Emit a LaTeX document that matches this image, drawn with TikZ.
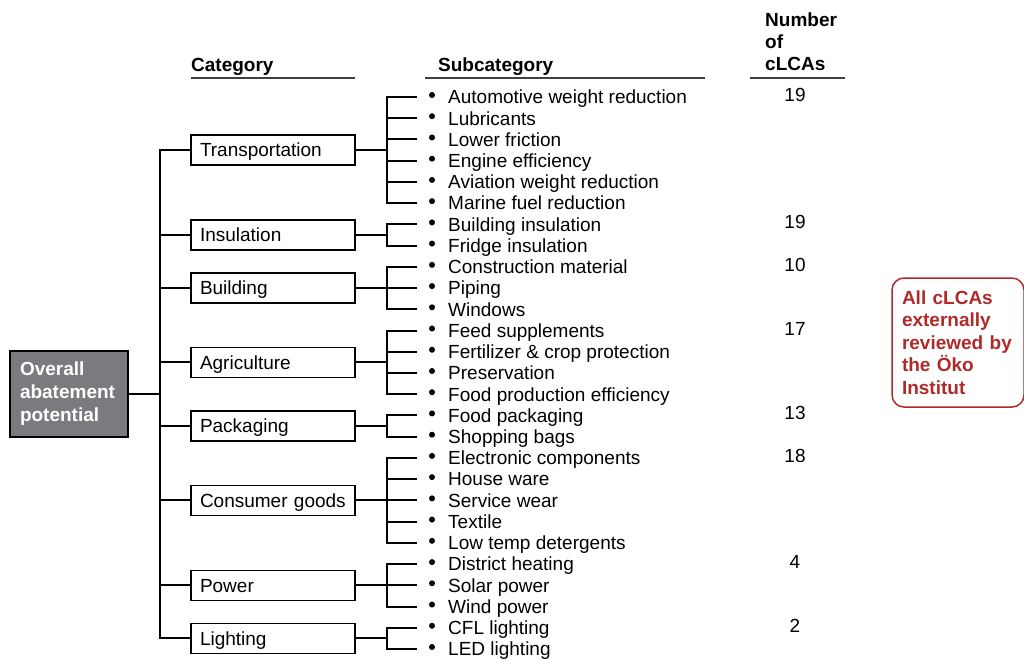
\documentclass[tikz,border=0pt]{standalone}
\usepackage{fontspec}
\setmainfont{Liberation Sans}
\usetikzlibrary{positioning}
\definecolor{rootgrey}{RGB}{122,123,126}
\definecolor{notered}{RGB}{176,42,42}

\begin{document}
\begin{tikzpicture}[x=1pt,y=-1pt,
	every node/.style={font=\fontsize{19}{22}\selectfont},
	hdr/.style={font=\fontsize{19}{22}\selectfont\bfseries, anchor=west, inner sep=0pt},
	cat/.style={draw, rectangle, line width=1.5pt, minimum height=30pt, text width=146pt,
		inner xsep=9pt, inner ysep=0pt, text height=13.6pt, text depth=0pt, align=left},
	item/.style={anchor=west, inner sep=0pt, text height=13.6pt, text depth=0pt},
	dot/.style={circle, fill, inner sep=0pt, minimum size=6pt},
	link/.style={line width=2pt, line cap=rect},
	rule/.style={line width=1.5pt, black!75}]

	\useasboundingbox (0,0) rectangle (1024,659);

	% headers
	\node[hdr] (hcat) at (191,67) {Category};
	\node[hdr] (hsub) at (438,67) {Subcategory};
	\node[hdr, align=left] (hnum) at (765,42) {Number\\of\\cLCAs};
	\draw[rule] (191,78) -- (355,78);
	\draw[rule] (425,78) -- (705,78);
	\draw[rule] (750,78) -- (845,78);

	% root
	\node[draw=black, fill=rootgrey, text=white, line width=1.5pt,
		font=\fontsize{19}{23}\selectfont\bfseries, text width=98pt, inner xsep=10pt,
		minimum height=86pt, align=left] (root) at (69,394) {Overall\\abatement\\potential};
	\coordinate (trunk) at (160,394);

	% subcategories
	\foreach \r/\t in {0/Automotive weight reduction, 1/Lubricants, 2/Lower friction,
		3/Engine efficiency, 4/Aviation weight reduction, 5/Marine fuel reduction,
		6/Building insulation, 7/Fridge insulation, 8/Construction material,
		9/Piping, 10/Windows, 11/Feed supplements, 12/Fertilizer \& crop protection,
		13/Preservation, 14/Food production efficiency, 15/Food packaging,
		16/Shopping bags, 17/Electronic components, 18/House ware, 19/Service wear,
		20/Textile, 21/Low temp detergents, 22/District heating, 23/Solar power,
		24/Wind power, 25/CFL lighting, 26/LED lighting}{
		\node[dot] (b\r) at (432,97+\r*21.23-2) {};
		\node[item] (s\r) at (448,97+\r*21.23) {\t};
	}

	% categories
	\foreach \n/\f/\l/\t in {tra/0/5/Transportation, ins/6/7/Insulation,
		bui/8/10/Building, agr/11/14/Agriculture, pac/15/16/Packaging,
		con/17/21/Consumer goods, pow/22/24/Power, lig/25/26/Lighting}{
		\pgfmathsetmacro\yc{97+(\f+\l)/2*21.23}
		\node[cat] (\n) at (273,\yc) {\t};
		\coordinate (j\n) at (387,\yc);
		\draw[link] (\n) -- (j\n);
		\draw[link] (j\n |- s\f) -- (j\n |- s\l);
		\foreach \r in {\f,...,\l}
			\draw[link] (j\n |- s\r) -- (416,0 |- s\r);
		\draw[link] (trunk |- \n) -- (\n);
	}
	\draw[link] (trunk |- tra) -- (trunk |- lig);
	\draw[link] (root) -- (trunk);

	% numbers
	\foreach \r/\v in {0/19, 6/19, 8/10, 11/17, 15/13, 17/18, 22/4, 25/2}
		\node (n\r) at (795,97+\r*21.23-2) {\v};

	% note
	\node[draw=notered, rounded corners=12pt, line width=1.5pt, text=notered,
		font=\fontsize{19}{22.5}\selectfont\bfseries, text width=112pt, inner xsep=10pt,
		minimum height=129pt, align=left] (note) at (958,342.5)
		{All cLCAs\\externally\\reviewed by\\the Öko\\Institut};

\end{tikzpicture}
\end{document}
